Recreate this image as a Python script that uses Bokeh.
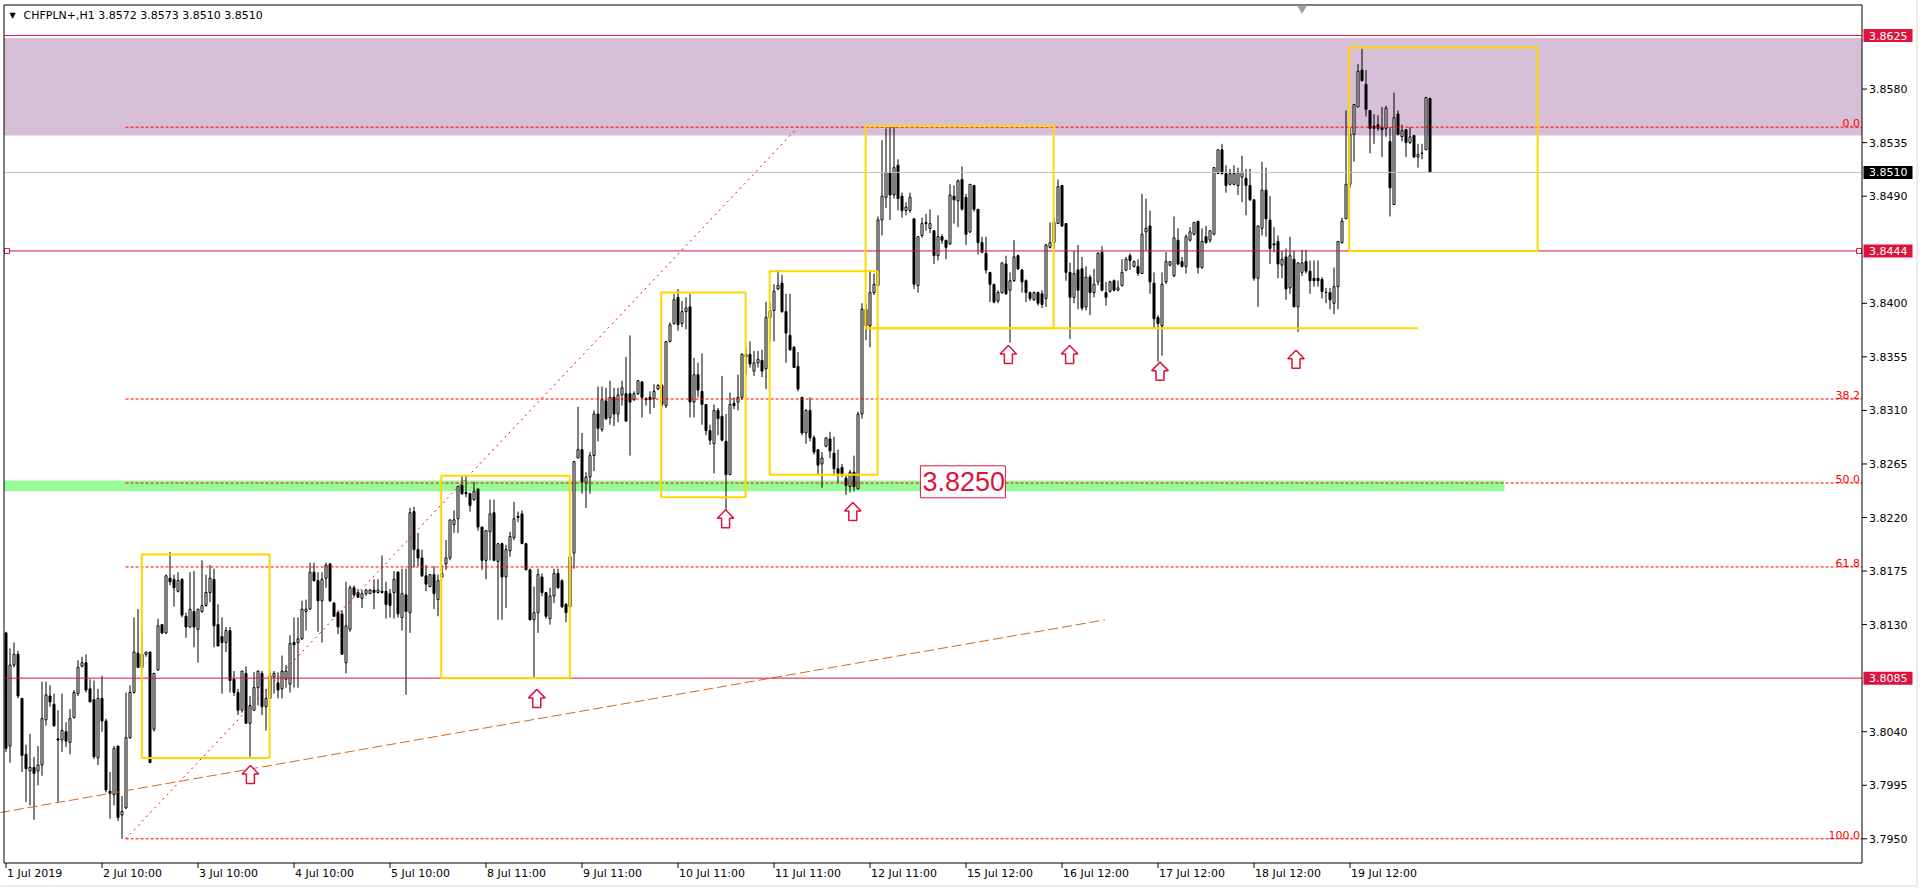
from bokeh.plotting import figure
from bokeh.models import ColumnDataSource, Range1d
from bokeh.core.properties import value
from bokeh.embed import file_html
from bokeh.resources import INLINE

# ---------------- data ----------------
symbol = "CHFPLN+,H1"

opens = [
    3.8123, 3.8028, 3.8096, 3.8105, 3.8068, 3.8021, 3.8007, 3.8010, 3.8007, 3.8012,
    3.8050, 3.8070, 3.8063, 3.8034, 3.8033, 3.8040, 3.8031, 3.8052, 3.8072, 3.8095,
    3.8098, 3.8076, 3.8067, 3.8018, 3.8068, 3.8049, 3.7990, 3.7987, 3.8028, 3.7970,
    3.7976, 3.8035, 3.8073, 3.8106, 3.8094, 3.8105, 3.8107, 3.8042, 3.8092, 3.8130,
    3.8123, 3.8169, 3.8168, 3.8158, 3.8168, 3.8137, 3.8128, 3.8141, 3.8126, 3.8141,
    3.8146, 3.8157, 3.8168, 3.8130, 3.8120, 3.8115, 3.8125, 3.8084, 3.8073, 3.8058,
    3.8089, 3.8047, 3.8058, 3.8077, 3.8089, 3.8061, 3.8068, 3.8086, 3.8081, 3.8076,
    3.8084, 3.8080, 3.8115, 3.8115, 3.8118, 3.8141, 3.8143, 3.8174, 3.8167, 3.8150,
    3.8169, 3.8181, 3.8148, 3.8140, 3.8139, 3.8098, 3.8126, 3.8161, 3.8157, 3.8152,
    3.8156, 3.8156, 3.8159, 3.8157, 3.8158, 3.8158, 3.8156, 3.8157, 3.8174, 3.8136,
    3.8155, 3.8140, 3.8225, 3.8193, 3.8186, 3.8171, 3.8162, 3.8172, 3.8151, 3.8170,
    3.8181, 3.8186, 3.8214, 3.8219, 3.8247, 3.8241, 3.8240, 3.8235, 3.8244, 3.8212,
    3.8184, 3.8208, 3.8224, 3.8183, 3.8198, 3.8170, 3.8192, 3.8203, 3.8221, 3.8223,
    3.8198, 3.8176, 3.8134, 3.8140, 3.8170, 3.8157, 3.8135, 3.8154, 3.8173, 3.8167,
    3.8147, 3.8145, 3.8190, 3.8270, 3.8277, 3.8249, 3.8254, 3.8272, 3.8307, 3.8294,
    3.8318, 3.8304, 3.8321, 3.8307, 3.8323, 3.8324, 3.8324, 3.8319, 3.8324, 3.8334,
    3.8320, 3.8321, 3.8320, 3.8328, 3.8331, 3.8314, 3.8368, 3.8383, 3.8405, 3.8383,
    3.8393, 3.8397, 3.8317, 3.8340, 3.8326, 3.8315, 3.8293, 3.8282, 3.8310, 3.8305,
    3.8284, 3.8256, 3.8316, 3.8317, 3.8321, 3.8357, 3.8357, 3.8343, 3.8350, 3.8352,
    3.8345, 3.8388, 3.8394, 3.8412, 3.8417, 3.8393, 3.8373, 3.8363, 3.8347, 3.8321,
    3.8291, 3.8310, 3.8287, 3.8277, 3.8265, 3.8280, 3.8286, 3.8274, 3.8261, 3.8262,
    3.8253, 3.8246, 3.8258, 3.8244, 3.8307, 3.8395, 3.8381, 3.8409, 3.8415, 3.8470,
    3.8489, 3.8510, 3.8491, 3.8516, 3.8490, 3.8478, 3.8478, 3.8471, 3.8415, 3.8457,
    3.8467, 3.8463, 3.8461, 3.8440, 3.8456, 3.8453, 3.8450, 3.8490, 3.8486, 3.8504,
    3.8489, 3.8460, 3.8499, 3.8479, 3.8451, 3.8442, 3.8426, 3.8416, 3.8402, 3.8409,
    3.8433, 3.8411, 3.8419, 3.8440, 3.8428, 3.8419, 3.8409, 3.8403, 3.8409, 3.8408,
    3.8404, 3.8447, 3.8451, 3.8467, 3.8499, 3.8467, 3.8426, 3.8405, 3.8428, 3.8429,
    3.8397, 3.8422, 3.8409, 3.8418, 3.8443, 3.8409, 3.8410, 3.8419, 3.8411, 3.8415,
    3.8428, 3.8440, 3.8431, 3.8431, 3.8425, 3.8460, 3.8465, 3.8417, 3.8388, 3.8381,
    3.8418, 3.8432, 3.8423, 3.8453, 3.8435, 3.8431, 3.8453, 3.8458, 3.8469, 3.8430,
    3.8456, 3.8453, 3.8458, 3.8509, 3.8529, 3.8509, 3.8500, 3.8500, 3.8499, 3.8506,
    3.8505, 3.8499, 3.8487, 3.8421, 3.8463, 3.8495, 3.8470, 3.8450, 3.8452, 3.8432,
    3.8439, 3.8413, 3.8437, 3.8397, 3.8426, 3.8435, 3.8427, 3.8421, 3.8421, 3.8420,
    3.8409, 3.8409, 3.8400, 3.8414, 3.8451, 3.8471, 3.8500, 3.8542, 3.8565, 3.8596,
    3.8584, 3.8562, 3.8549, 3.8550, 3.8548, 3.8547, 3.8536, 3.8483, 3.8559, 3.8540,
    3.8546, 3.8535, 3.8541, 3.8523, 3.8526, 3.8529, 3.8572,
]

highs = [
    3.8124, 3.8110, 3.8115, 3.8108, 3.8068, 3.8029, 3.8038, 3.8019, 3.8028, 3.8082,
    3.8082, 3.8079, 3.8072, 3.8058, 3.8072, 3.8048, 3.8059, 3.8075, 3.8100, 3.8103,
    3.8105, 3.8084, 3.8083, 3.8076, 3.8087, 3.8051, 3.8006, 3.8028, 3.8028, 3.7986,
    3.8073, 3.8079, 3.8136, 3.8143, 3.8124, 3.8107, 3.8107, 3.8089, 3.8135, 3.8130,
    3.8172, 3.8191, 3.8172, 3.8174, 3.8169, 3.8140, 3.8174, 3.8175, 3.8143, 3.8184,
    3.8172, 3.8180, 3.8177, 3.8147, 3.8136, 3.8128, 3.8128, 3.8091, 3.8076, 3.8091,
    3.8095, 3.8070, 3.8090, 3.8091, 3.8091, 3.8076, 3.8091, 3.8091, 3.8090, 3.8104,
    3.8096, 3.8121, 3.8136, 3.8136, 3.8150, 3.8151, 3.8182, 3.8182, 3.8174, 3.8174,
    3.8182, 3.8182, 3.8149, 3.8142, 3.8142, 3.8166, 3.8163, 3.8163, 3.8160, 3.8159,
    3.8160, 3.8160, 3.8168, 3.8168, 3.8188, 3.8166, 3.8160, 3.8175, 3.8175, 3.8177,
    3.8177, 3.8228, 3.8229, 3.8207, 3.8193, 3.8180, 3.8172, 3.8179, 3.8172, 3.8180,
    3.8201, 3.8218, 3.8226, 3.8246, 3.8255, 3.8255, 3.8241, 3.8250, 3.8244, 3.8212,
    3.8209, 3.8235, 3.8235, 3.8198, 3.8199, 3.8197, 3.8208, 3.8233, 3.8225, 3.8226,
    3.8198, 3.8177, 3.8162, 3.8177, 3.8173, 3.8157, 3.8161, 3.8177, 3.8177, 3.8168,
    3.8148, 3.8190, 3.8267, 3.8313, 3.8291, 3.8258, 3.8275, 3.8310, 3.8330, 3.8330,
    3.8329, 3.8335, 3.8329, 3.8329, 3.8335, 3.8355, 3.8373, 3.8326, 3.8335, 3.8334,
    3.8321, 3.8326, 3.8332, 3.8332, 3.8332, 3.8368, 3.8384, 3.8408, 3.8412, 3.8402,
    3.8405, 3.8408, 3.8354, 3.8350, 3.8358, 3.8315, 3.8298, 3.8315, 3.8312, 3.8339,
    3.8307, 3.8325, 3.8321, 3.8340, 3.8358, 3.8363, 3.8368, 3.8360, 3.8360, 3.8361,
    3.8401, 3.8401, 3.8416, 3.8428, 3.8424, 3.8408, 3.8408, 3.8364, 3.8359, 3.8321,
    3.8311, 3.8321, 3.8289, 3.8277, 3.8275, 3.8287, 3.8292, 3.8288, 3.8277, 3.8265,
    3.8255, 3.8260, 3.8272, 3.8309, 3.8400, 3.8400, 3.8428, 3.8425, 3.8473, 3.8537,
    3.8547, 3.8548, 3.8548, 3.8521, 3.8493, 3.8485, 3.8493, 3.8471, 3.8456, 3.8472,
    3.8475, 3.8479, 3.8461, 3.8474, 3.8458, 3.8453, 3.8500, 3.8499, 3.8504, 3.8515,
    3.8492, 3.8500, 3.8499, 3.8479, 3.8456, 3.8456, 3.8426, 3.8416, 3.8411, 3.8434,
    3.8440, 3.8426, 3.8453, 3.8441, 3.8429, 3.8420, 3.8410, 3.8410, 3.8410, 3.8411,
    3.8450, 3.8468, 3.8472, 3.8504, 3.8499, 3.8467, 3.8434, 3.8444, 3.8449, 3.8439,
    3.8431, 3.8424, 3.8429, 3.8443, 3.8448, 3.8418, 3.8419, 3.8420, 3.8419, 3.8437,
    3.8439, 3.8442, 3.8436, 3.8437, 3.8492, 3.8488, 3.8478, 3.8426, 3.8390, 3.8426,
    3.8443, 3.8435, 3.8473, 3.8463, 3.8439, 3.8458, 3.8464, 3.8468, 3.8469, 3.8463,
    3.8465, 3.8461, 3.8514, 3.8529, 3.8534, 3.8516, 3.8513, 3.8516, 3.8514, 3.8524,
    3.8513, 3.8513, 3.8487, 3.8465, 3.8519, 3.8514, 3.8490, 3.8464, 3.8457, 3.8444,
    3.8446, 3.8456, 3.8444, 3.8434, 3.8445, 3.8445, 3.8436, 3.8436, 3.8436, 3.8422,
    3.8413, 3.8413, 3.8430, 3.8452, 3.8472, 3.8562, 3.8548, 3.8567, 3.8601, 3.8614,
    3.8596, 3.8562, 3.8559, 3.8558, 3.8565, 3.8566, 3.8548, 3.8577, 3.8562, 3.8550,
    3.8546, 3.8548, 3.8541, 3.8534, 3.8534, 3.8573, 3.8573,
]

lows = [
    3.8023, 3.8014, 3.8094, 3.8068, 3.8006, 3.7981, 3.7978, 3.7966, 3.7995, 3.8003,
    3.8045, 3.8061, 3.8044, 3.7981, 3.8023, 3.8027, 3.8021, 3.8051, 3.8070, 3.8094,
    3.8073, 3.8065, 3.8017, 3.8012, 3.8040, 3.7989, 3.7967, 3.7978, 3.7965, 3.7950,
    3.7975, 3.8034, 3.8072, 3.8094, 3.8093, 3.8103, 3.8014, 3.8040, 3.8091, 3.8122,
    3.8122, 3.8163, 3.8145, 3.8157, 3.8136, 3.8119, 3.8127, 3.8111, 3.8098, 3.8140,
    3.8145, 3.8149, 3.8111, 3.8112, 3.8072, 3.8107, 3.8073, 3.8070, 3.8054, 3.8056,
    3.8047, 3.8019, 3.8058, 3.8062, 3.8054, 3.8041, 3.8068, 3.8072, 3.8068, 3.8068,
    3.8077, 3.8073, 3.8077, 3.8077, 3.8117, 3.8125, 3.8143, 3.8166, 3.8124, 3.8115,
    3.8161, 3.8149, 3.8137, 3.8122, 3.8105, 3.8089, 3.8124, 3.8153, 3.8153, 3.8144,
    3.8154, 3.8156, 3.8143, 3.8156, 3.8156, 3.8135, 3.8136, 3.8135, 3.8136, 3.8125,
    3.8071, 3.8123, 3.8178, 3.8179, 3.8170, 3.8158, 3.8162, 3.8143, 3.8137, 3.8170,
    3.8176, 3.8184, 3.8207, 3.8207, 3.8239, 3.8237, 3.8225, 3.8234, 3.8209, 3.8176,
    3.8168, 3.8184, 3.8183, 3.8134, 3.8134, 3.8144, 3.8187, 3.8201, 3.8216, 3.8198,
    3.8176, 3.8134, 3.8086, 3.8123, 3.8154, 3.8135, 3.8130, 3.8148, 3.8160, 3.8144,
    3.8132, 3.8144, 3.8177, 3.8270, 3.8240, 3.8228, 3.8240, 3.8259, 3.8284, 3.8292,
    3.8302, 3.8298, 3.8297, 3.8300, 3.8314, 3.8301, 3.8272, 3.8318, 3.8323, 3.8304,
    3.8314, 3.8307, 3.8312, 3.8327, 3.8313, 3.8312, 3.8367, 3.8382, 3.8377, 3.8380,
    3.8378, 3.8304, 3.8304, 3.8321, 3.8298, 3.8289, 3.8281, 3.8257, 3.8289, 3.8284,
    3.8226, 3.8256, 3.8311, 3.8310, 3.8319, 3.8340, 3.8346, 3.8339, 3.8346, 3.8338,
    3.8328, 3.8368, 3.8368, 3.8411, 3.8392, 3.8350, 3.8360, 3.8346, 3.8326, 3.8289,
    3.8282, 3.8284, 3.8273, 3.8256, 3.8245, 3.8279, 3.8270, 3.8255, 3.8249, 3.8254,
    3.8239, 3.8241, 3.8242, 3.8244, 3.8303, 3.8369, 3.8363, 3.8407, 3.8414, 3.8457,
    3.8480, 3.8470, 3.8488, 3.8478, 3.8472, 3.8474, 3.8476, 3.8412, 3.8409, 3.8455,
    3.8461, 3.8459, 3.8433, 3.8436, 3.8450, 3.8437, 3.8449, 3.8467, 3.8464, 3.8478,
    3.8449, 3.8459, 3.8477, 3.8441, 3.8442, 3.8425, 3.8401, 3.8400, 3.8400, 3.8408,
    3.8407, 3.8367, 3.8418, 3.8428, 3.8409, 3.8401, 3.8402, 3.8402, 3.8398, 3.8396,
    3.8397, 3.8446, 3.8446, 3.8467, 3.8464, 3.8419, 3.8370, 3.8400, 3.8395, 3.8394,
    3.8394, 3.8390, 3.8405, 3.8415, 3.8410, 3.8398, 3.8409, 3.8410, 3.8410, 3.8414,
    3.8427, 3.8428, 3.8430, 3.8423, 3.8425, 3.8444, 3.8408, 3.8379, 3.8351, 3.8356,
    3.8416, 3.8431, 3.8422, 3.8432, 3.8430, 3.8425, 3.8452, 3.8457, 3.8425, 3.8429,
    3.8450, 3.8451, 3.8457, 3.8509, 3.8508, 3.8493, 3.8499, 3.8499, 3.8491, 3.8485,
    3.8474, 3.8486, 3.8419, 3.8397, 3.8457, 3.8456, 3.8433, 3.8443, 3.8421, 3.8421,
    3.8403, 3.8408, 3.8397, 3.8376, 3.8423, 3.8425, 3.8408, 3.8414, 3.8414, 3.8404,
    3.8400, 3.8395, 3.8391, 3.8395, 3.8450, 3.8471, 3.8497, 3.8519, 3.8565, 3.8587,
    3.8557, 3.8526, 3.8534, 3.8545, 3.8523, 3.8540, 3.8473, 3.8483, 3.8541, 3.8536,
    3.8523, 3.8534, 3.8522, 3.8514, 3.8521, 3.8529, 3.8510,
]

closes = [
    3.8026, 3.8096, 3.8105, 3.8070, 3.8020, 3.8009, 3.8010, 3.8005, 3.8012, 3.8051,
    3.8071, 3.8065, 3.8045, 3.8033, 3.8041, 3.8032, 3.8051, 3.8073, 3.8094, 3.8098,
    3.8075, 3.8065, 3.8019, 3.8068, 3.8049, 3.7991, 3.7988, 3.8026, 3.7968, 3.7973,
    3.8035, 3.8073, 3.8107, 3.8094, 3.8105, 3.8107, 3.8014, 3.8089, 3.8129, 3.8123,
    3.8171, 3.8166, 3.8161, 3.8167, 3.8138, 3.8128, 3.8143, 3.8128, 3.8143, 3.8146,
    3.8157, 3.8169, 3.8129, 3.8112, 3.8115, 3.8125, 3.8083, 3.8073, 3.8058, 3.8091,
    3.8047, 3.8062, 3.8077, 3.8091, 3.8061, 3.8068, 3.8087, 3.8089, 3.8075, 3.8091,
    3.8091, 3.8114, 3.8113, 3.8118, 3.8143, 3.8143, 3.8174, 3.8167, 3.8150, 3.8168,
    3.8180, 3.8150, 3.8137, 3.8128, 3.8105, 3.8129, 3.8161, 3.8155, 3.8153, 3.8156,
    3.8159, 3.8159, 3.8157, 3.8159, 3.8157, 3.8147, 3.8146, 3.8168, 3.8139, 3.8156,
    3.8141, 3.8224, 3.8193, 3.8186, 3.8171, 3.8164, 3.8172, 3.8156, 3.8167, 3.8173,
    3.8186, 3.8218, 3.8218, 3.8246, 3.8240, 3.8240, 3.8230, 3.8242, 3.8212, 3.8184,
    3.8209, 3.8223, 3.8184, 3.8198, 3.8170, 3.8193, 3.8204, 3.8219, 3.8220, 3.8198,
    3.8176, 3.8134, 3.8140, 3.8172, 3.8157, 3.8137, 3.8154, 3.8173, 3.8161, 3.8145,
    3.8140, 3.8187, 3.8267, 3.8277, 3.8250, 3.8254, 3.8272, 3.8307, 3.8295, 3.8319,
    3.8303, 3.8321, 3.8307, 3.8323, 3.8329, 3.8301, 3.8317, 3.8324, 3.8335, 3.8321,
    3.8319, 3.8319, 3.8326, 3.8331, 3.8315, 3.8368, 3.8382, 3.8403, 3.8382, 3.8393,
    3.8396, 3.8317, 3.8340, 3.8327, 3.8315, 3.8293, 3.8285, 3.8310, 3.8303, 3.8285,
    3.8256, 3.8315, 3.8314, 3.8321, 3.8357, 3.8355, 3.8349, 3.8350, 3.8353, 3.8343,
    3.8388, 3.8394, 3.8410, 3.8415, 3.8393, 3.8375, 3.8361, 3.8346, 3.8328, 3.8291,
    3.8310, 3.8287, 3.8275, 3.8264, 3.8270, 3.8287, 3.8276, 3.8261, 3.8257, 3.8256,
    3.8247, 3.8258, 3.8246, 3.8307, 3.8395, 3.8381, 3.8409, 3.8416, 3.8470, 3.8490,
    3.8510, 3.8491, 3.8514, 3.8488, 3.8478, 3.8481, 3.8489, 3.8416, 3.8456, 3.8467,
    3.8468, 3.8467, 3.8440, 3.8456, 3.8453, 3.8447, 3.8491, 3.8487, 3.8503, 3.8479,
    3.8458, 3.8500, 3.8479, 3.8451, 3.8443, 3.8428, 3.8416, 3.8401, 3.8409, 3.8434,
    3.8408, 3.8419, 3.8439, 3.8429, 3.8418, 3.8409, 3.8404, 3.8409, 3.8400, 3.8399,
    3.8449, 3.8451, 3.8468, 3.8498, 3.8465, 3.8426, 3.8405, 3.8425, 3.8411, 3.8396,
    3.8422, 3.8409, 3.8416, 3.8442, 3.8411, 3.8405, 3.8418, 3.8411, 3.8413, 3.8426,
    3.8437, 3.8436, 3.8435, 3.8425, 3.8458, 3.8463, 3.8418, 3.8387, 3.8383, 3.8416,
    3.8435, 3.8435, 3.8455, 3.8433, 3.8431, 3.8456, 3.8460, 3.8468, 3.8430, 3.8452,
    3.8451, 3.8461, 3.8514, 3.8529, 3.8509, 3.8499, 3.8509, 3.8509, 3.8510, 3.8510,
    3.8499, 3.8487, 3.8421, 3.8465, 3.8495, 3.8471, 3.8446, 3.8449, 3.8433, 3.8437,
    3.8412, 3.8440, 3.8397, 3.8434, 3.8434, 3.8427, 3.8419, 3.8419, 3.8419, 3.8410,
    3.8409, 3.8403, 3.8414, 3.8452, 3.8469, 3.8500, 3.8542, 3.8567, 3.8595, 3.8587,
    3.8563, 3.8547, 3.8547, 3.8547, 3.8546, 3.8564, 3.8497, 3.8556, 3.8542, 3.8545,
    3.8535, 3.8540, 3.8523, 3.8525, 3.8526, 3.8573, 3.8510,
]

tick_bars = [0, 24, 48, 72, 96, 120, 144, 168, 192, 216, 240, 264, 288, 312, 336]
tick_labels = ["1 Jul 2019", "2 Jul 10:00", "3 Jul 10:00", "4 Jul 10:00", "5 Jul 10:00",
               "8 Jul 11:00", "9 Jul 11:00", "10 Jul 11:00", "11 Jul 11:00", "12 Jul 11:00",
               "15 Jul 12:00", "16 Jul 12:00", "17 Jul 12:00", "18 Jul 12:00", "19 Jul 12:00"]
price_ticks = [3.7950, 3.7995, 3.8040, 3.8130, 3.8175, 3.8220, 3.8265, 3.8310,
               3.8355, 3.8400, 3.8490, 3.8535, 3.8580]

# horizontal levels
level_prices = [3.8625, 3.8444, 3.8085]
bid_price = 3.8510
zone_bottom, zone_top = 3.8541, 3.8623              # lilac resistance zone
band_bottom, band_top, band_end = 3.8242, 3.8251, 374.6   # green support band
band_text = "3.8250"
band_text_bar = 228.6

# Fibonacci retracement
fib_low, fib_high = 3.7950, 3.8548
fib_low_bar, fib_high_bar = 29.9, 198.0
fib_levels = [0.0, 38.2, 50.0, 61.8, 100.0]

# yellow rectangles (bar index / price)
box_left = [33.95, 108.8, 163.8, 190.9, 214.9, 335.8]
box_right = [65.9, 140.95, 184.9, 217.9, 261.9, 382.9]
box_top = [3.8189, 3.8255, 3.8409, 3.8427, 3.8549, 3.8615]
box_bottom = [3.8018, 3.8085, 3.8237, 3.8256, 3.8379, 3.8444]
base_line_bars = [214.9, 353.0]
base_line_price = 3.8379

# orange trend line
trend_bars = [-1.5, 274.75]
trend_prices = [3.7972, 3.8134]

# up arrows
arrow_bars = [61.1, 132.7, 179.9, 211.7, 250.6, 265.9, 288.5, 322.5]
arrow_prices = [3.8004, 3.8068, 3.8219, 3.8225, 3.8357, 3.8357, 3.8343, 3.8353]

# chart-shift marker
shift_bar = 324.0

# ---------------- layout (pixels of the page) ----------------
W, H = 1918, 887
PX_BAR = 4.0                 # pixels per bar
PX_PRICE = 11900.0           # pixels per price unit
X0 = -1.375                  # bar at the left edge of the canvas
Y_REF_P, Y_REF_PX = 3.7950, 838.3


def bx(px):
    return X0 + px / PX_BAR


def py(px):
    return Y_REF_P + (Y_REF_PX - px) / PX_PRICE


CHART_L = bx(3.5)
CHART_R = bx(1861.5)
CHART_T = py(4.5)
CHART_B = py(862.5)

CRIMSON = "#DC143C"
FONT = "DejaVu Sans"

p = figure(width=W, height=H, output_backend="svg", toolbar_location=None,
           title=None, x_axis_location=None, y_axis_location=None,
           x_range=Range1d(X0, X0 + W / PX_BAR), y_range=Range1d(py(H), py(0)),
           min_border_left=0, min_border_top=0, min_border_right=0, min_border_bottom=0,
           background_fill_color="white", border_fill_color="white",
           outline_line_color=None)
p.xgrid.visible = False
p.ygrid.visible = False

# window edges
p.segment(x0=[bx(1916.5), bx(0)], y0=[py(0), py(885.5)],
          x1=[bx(1916.5), bx(1917)], y1=[py(886), py(885.5)],
          line_color="#D9D9D9", line_width=1)

# zones
p.quad(left=[CHART_L], right=[CHART_R], bottom=[zone_bottom], top=[zone_top],
       fill_color="#D8BFD8", line_color=None)
p.quad(left=[CHART_L], right=[band_end], bottom=[band_bottom], top=[band_top],
       fill_color="#98FB98", line_color=None)

# candles
n = min(len(opens), len(highs), len(lows), len(closes))
xs = list(range(n))
body_top, body_bot, fills, hi, lo = [], [], [], [], []
for i in range(n):
    o, h, l, c = opens[i], highs[i], lows[i], closes[i]
    t, b = max(o, c), min(o, c)
    if t - b < 0.00002:
        t = b + 0.00002
    body_top.append(t)
    body_bot.append(b)
    fills.append("white" if c > o else "black")
    hi.append(max(h, o, c))
    lo.append(min(l, o, c))
src = ColumnDataSource(dict(x=xs, hi=hi, lo=lo, top=body_top, bottom=body_bot, fill=fills))
p.segment(x0="x", y0="lo", x1="x", y1="hi", source=src, line_color="black", line_width=1)
p.vbar(x="x", width=0.5, top="top", bottom="bottom", fill_color="fill",
       line_color="black", line_width=1, source=src)

# Fibonacci
fib_prices = [fib_high - (fib_high - fib_low) * lv / 100.0 for lv in fib_levels]
p.segment(x0=[fib_low_bar] * len(fib_prices), y0=fib_prices,
          x1=[CHART_R] * len(fib_prices), y1=fib_prices,
          line_color="red", line_width=1, line_dash="3 2")
p.line([fib_low_bar, fib_high_bar], [fib_low, fib_high], line_color="red",
       line_width=1, line_dash="2 4")
p.text(x=[bx(1859.5)] * len(fib_levels), y=fib_prices,
       text=[f"{lv:.1f}" for lv in fib_levels], text_align="right",
       text_baseline="bottom", text_color="red", text_font=value(FONT),
       text_font_size="11px")

# trend line
p.line(trend_bars, trend_prices, line_color="#D2691E", line_width=1, line_dash="10 4")

# horizontal lines
p.segment(x0=[CHART_L] * len(level_prices), y0=level_prices,
          x1=[CHART_R] * len(level_prices), y1=level_prices,
          line_color=CRIMSON, line_width=1)
p.segment(x0=[CHART_L], y0=[bid_price], x1=[CHART_R], y1=[bid_price],
          line_color="#C0C0C0", line_width=1)
p.scatter([bx(6.5), bx(1858.5)], [level_prices[1]] * 2, marker="square", size=5,
          fill_color="white", line_color=CRIMSON, line_width=1)

# yellow boxes
p.quad(left=box_left, right=box_right, top=box_top, bottom=box_bottom,
       fill_color=None, line_color="#FFD700", line_width=2)
p.line(base_line_bars, [base_line_price] * 2, line_color="#FFD700", line_width=2)

# arrows (hollow up arrows, shape in pixels)
arrow_shape = [(0, -9), (8.3, -0.5), (4, -0.5), (4, 9), (-4, 9), (-4, -0.5), (-8.3, -0.5)]
axs, ays = [], []
for b, pr in zip(arrow_bars, arrow_prices):
    axs.append([b + dx / PX_BAR for dx, dy in arrow_shape])
    ays.append([pr - dy / PX_PRICE for dx, dy in arrow_shape])
p.patches(axs, ays, fill_color="white", line_color=CRIMSON, line_width=1.5)

# support text box
bw, bh = 85 / PX_BAR, 16 / PX_PRICE
p.quad(left=[band_text_bar], right=[band_text_bar + bw], top=[3.8250 + bh],
       bottom=[3.8250 - bh], fill_color="white", line_color=CRIMSON, line_width=1)
p.text(x=[band_text_bar + 2 / PX_BAR], y=[3.8250], text=[band_text], text_color=CRIMSON,
       text_font=value("Liberation Sans"), text_font_size="27px",
       text_align="left", text_baseline="middle")

# chart border and right axis
p.quad(left=[CHART_L], right=[CHART_R], top=[CHART_T], bottom=[CHART_B],
       fill_color=None, line_color="black", line_width=1)
p.segment(x0=[CHART_R] * len(price_ticks), y0=price_ticks,
          x1=[CHART_R + 5 / PX_BAR] * len(price_ticks), y1=price_ticks,
          line_color="black", line_width=1)
p.text(x=[bx(1868.5)] * len(price_ticks), y=price_ticks,
       text=[f"{t:.4f}" for t in price_ticks], text_align="left", text_baseline="middle",
       text_color="black", text_font=value(FONT), text_font_size="11px")

# price boxes on the axis
box_prices = [level_prices[0], bid_price, level_prices[1], level_prices[2]]
box_cols = [CRIMSON, "black", CRIMSON, CRIMSON]
hb = 6.5 / PX_PRICE
p.quad(left=[bx(1863)] * 4, right=[bx(1912)] * 4,
       top=[v + hb for v in box_prices], bottom=[v - hb for v in box_prices],
       fill_color=box_cols, line_color=None)
p.text(x=[bx(1868.5)] * 4, y=box_prices, text=[f"{v:.4f}" for v in box_prices],
       text_align="left", text_baseline="middle", text_color="white",
       text_font=value(FONT), text_font_size="11px")

# bottom axis ticks and date labels
p.segment(x0=tick_bars, y0=[CHART_B] * len(tick_bars), x1=tick_bars,
          y1=[py(867.5)] * len(tick_bars), line_color="black", line_width=1)
p.text(x=[b + 1 / PX_BAR for b in tick_bars], y=[py(873)] * len(tick_bars),
       text=tick_labels, text_align="left", text_baseline="middle", text_color="black",
       text_font=value(FONT), text_font_size="11px")

# chart-shift marker at the top edge
p.scatter([shift_bar], [py(8)], marker="inverted_triangle", size=8,
          fill_color="#A0A0A0", line_color="#A0A0A0")

# header
header = f"{symbol}  {opens[-1]:.4f} {highs[-1]:.4f} {lows[-1]:.4f} {closes[-1]:.4f}"
p.text(x=[bx(12)], y=[py(15)], text=["\u25bc"], text_align="center",
       text_baseline="middle", text_color="black", text_font=value(FONT),
       text_font_size="8px")
p.text(x=[bx(23)], y=[py(15)], text=[header], text_align="left",
       text_baseline="middle", text_color="black", text_font=value(FONT),
       text_font_size="11px")

open("out.html", "w").write(file_html(p, INLINE))
